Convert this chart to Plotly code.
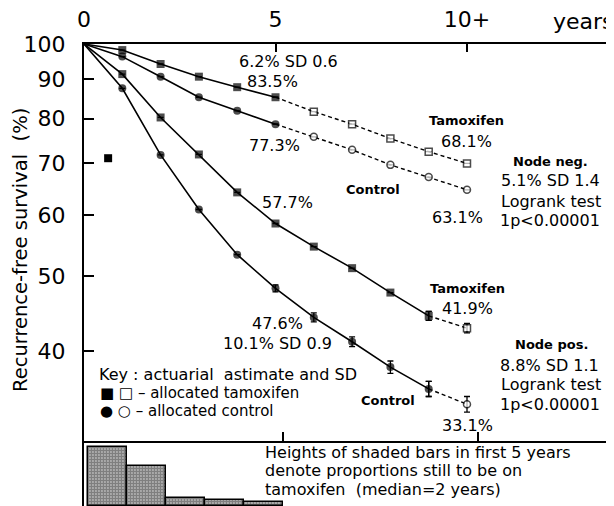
import plotly.graph_objects as go

# ---------------- data ----------------
years = [0, 1, 2, 3, 4, 5, 6, 7, 8, 9, 10]
neg_tamoxifen = [100, 98.2, 94.2, 90.7, 87.9, 85.3, 81.7, 78.7, 75.4, 72.5, 70.0]
neg_control = [100, 96.3, 90.7, 85.3, 81.9, 78.7, 75.8, 72.9, 69.7, 67.2, 64.7]
pos_tamoxifen = [100, 91.4, 80.3, 71.9, 64.2, 58.5, 54.6, 51.2, 47.6, 44.4, 42.8]
pos_control = [100, 87.6, 71.8, 61.0, 53.3, 48.2, 44.2, 41.1, 38.1, 35.7, 34.1]
pos_tamoxifen_sd = [0, 0, 0, 0, 0, 0, 0, 0, 0, 0.6, 0.6]
pos_control_sd = [0, 0, 0, 0, 0, 0.5, 0.6, 0.6, 0.7, 0.8, 0.8]
neg_sd = [0] * 11
stray_mark = ([0.63], [71.1])

on_tam_year = [1, 2, 3, 4, 5]
on_tam_prop = [0.94, 0.63, 0.13, 0.10, 0.06]

y_ticks = [40, 50, 60, 70, 80, 90, 100]
x_ticks = [0, 5, 10]
x_ticktext = ["0", "5", "10+"]

# ---------------- layout geometry ----------------
OFF = 8                      # page body margin of the html page
W, H = 614 - OFF, 506 - OFF  # figure size so it fits the window
L, R, T, B = 84 - OFF, 0, 44 - OFF, 0
PW, PH = W - L - R, H - T - B
main_bottom_px = 443 - OFF
d0 = (H - B - main_bottom_px) / PH
PX_PER_YEAR = 38.3
FONT = "DejaVu Sans"


def pxx(x):  # page pixel -> paper
    return (x - OFF - L) / PW


def pxy(y):
    return (H - B - (y - OFF)) / PH


fig = go.Figure()


def add_series(vals, sd, symbol, k, msize):
    n = len(years)
    fig.add_trace(go.Scatter(
        x=years[:k + 1], y=vals[:k + 1], mode="lines+markers",
        line=dict(color="black", width=1.6),
        marker=dict(symbol=symbol, color="black", size=[0] + [msize] * k,
                    line=dict(color="black", width=0)),
        error_y=dict(type="data", array=sd[:k + 1], color="black",
                     thickness=1.3, width=3),
        xaxis="x", yaxis="y", showlegend=False, hoverinfo="skip"))
    fig.add_trace(go.Scatter(
        x=years[k:], y=vals[k:], mode="lines+markers",
        line=dict(color="black", width=1.4, dash="4px,3px"),
        marker=dict(symbol=symbol, color="white", size=[0] + [msize - 1] * (n - 1 - k),
                    line=dict(color="black", width=1.5)),
        error_y=dict(type="data", array=sd[k:], color="black",
                     thickness=1.3, width=3),
        xaxis="x", yaxis="y", showlegend=False, hoverinfo="skip"))


add_series(neg_tamoxifen, neg_sd, "square", 5, 8)
add_series(neg_control, neg_sd, "circle", 5, 8)
add_series(pos_tamoxifen, pos_tamoxifen_sd, "square", 9, 8)
add_series(pos_control, pos_control_sd, "circle", 9, 8)

fig.add_trace(go.Scatter(x=stray_mark[0], y=stray_mark[1], mode="markers",
                         marker=dict(symbol="square", color="black", size=8),
                         xaxis="x", yaxis="y", showlegend=False, hoverinfo="skip"))

# shaded bars strip
fig.add_trace(go.Bar(
    x=[y - 0.5 for y in on_tam_year], y=on_tam_prop, width=1.0,
    marker=dict(color="white", line=dict(color="black", width=1.5),
                pattern=dict(shape=".", fgcolor="black", bgcolor="white",
                             size=3, solidity=0.8)),
    xaxis="x2", yaxis="y2", showlegend=False, hoverinfo="skip"))

fig.update_layout(
    width=W, height=H, margin=dict(l=L, r=R, t=T, b=B, autoexpand=False),
    paper_bgcolor="white", plot_bgcolor="white",
    font=dict(family=FONT, color="black"),
    xaxis=dict(domain=[0, 1], range=[0, PW / PX_PER_YEAR], side="top", anchor="y",
               tickvals=x_ticks, ticktext=x_ticktext, ticks="inside", ticklen=8,
               tickwidth=1.5, tickcolor="black", showline=True, linewidth=2,
               linecolor="black", showgrid=False, zeroline=False, automargin=False,
               tickfont=dict(size=22, family=FONT), ticklabelstandoff=6),
    yaxis=dict(domain=[d0, 1], type="log",
               range=[2 - (main_bottom_px - T) / 771.0, 2],
               tickvals=y_ticks, ticktext=[str(v) for v in y_ticks],
               ticks="inside", ticklen=10, tickwidth=1.5, tickcolor="black",
               showline=True, linewidth=2, linecolor="black", showgrid=False,
               zeroline=False, tickfont=dict(size=22, family=FONT), automargin=False,
               ticklabelstandoff=12, anchor="x"),
    xaxis2=dict(domain=[0, 1], anchor="y2", range=[-4 / 39, (PW - 4) / 39],
                side="top", showline=True, linewidth=1.5, linecolor="black",
                ticks="outside", tickvals=[5, 10], ticklen=9, tickwidth=1.5,
                tickcolor="black", showticklabels=False, showgrid=False,
                zeroline=False, automargin=False),
    yaxis2=dict(domain=[0, d0], range=[0, 1], anchor="x2", showline=True,
                linewidth=2, linecolor="black", showticklabels=False,
                ticks="", showgrid=False, zeroline=False, automargin=False),
    bargap=0,
)

# ---------------- text (page pixel positions) ----------------
notes = [
    ("6.2% SD 0.6", 288, 61, 16, False),
    ("83.5%", 272, 81, 16, False),
    ("77.3%", 274, 145, 16, False),
    ("57.7%", 287, 203, 16, False),
    ("47.6%", 277, 323, 16, False),
    ("10.1% SD 0.9", 277, 343, 16, False),
    ("Tamoxifen", 466, 121, 13, True),
    ("68.1%", 466, 141, 16, False),
    ("Control", 373, 189, 13, True),
    ("63.1%", 457, 217, 16, False),
    ("Node neg.", 550, 161, 13, True),
    ("5.1% SD 1.4", 550, 180, 16, False),
    ("Logrank test", 551, 201, 16, False),
    ("1p<0.00001", 550, 220, 16, False),
    ("Tamoxifen", 467, 288, 13, True),
    ("41.9%", 467, 308, 16, False),
    ("Control", 388, 400, 13, True),
    ("33.1%", 467, 425, 16, False),
    ("Node pos.", 551, 344, 13, True),
    ("8.8% SD 1.1", 549, 365, 16, False),
    ("Logrank test", 551, 384, 16, False),
    ("1p<0.00001", 550, 404, 16, False),
]
for txt, x, y, s, bold in notes:
    fig.add_annotation(text=f"<b>{txt}</b>" if bold else txt, xref="paper", yref="paper",
                       x=pxx(x), y=pxy(y), xanchor="center", yanchor="middle",
                       showarrow=False, font=dict(size=s, family=FONT, color="black"))

left_notes = [
    ("Key : actuarial\u00a0 astimate and SD", 97, 374, 16),
    ("■ □ – allocated tamoxifen", 98, 393, 15),
    ("● ○ – allocated control", 98, 411, 15),
    ("Heights of shaded bars in first 5 years", 263, 452, 16),
    ("denote proportions still to be on", 263, 470, 16),
    ("tamoxifen\u00a0 (median=2 years)", 263, 489, 16),
]
for txt, x, y, s in left_notes:
    fig.add_annotation(text=txt, xref="paper", yref="paper", x=pxx(x), y=pxy(y),
                       xanchor="left", yanchor="middle", showarrow=False,
                       font=dict(size=s, family=FONT, color="black"))

fig.add_annotation(text="years", xref="paper", yref="paper", x=pxx(583), y=pxy(21),
                   xanchor="center", yanchor="middle", showarrow=False,
                   font=dict(size=22, family=FONT, color="black"))
fig.add_annotation(text="Recurrence-free survival\u00a0 (%)", xref="paper", yref="paper",
                   x=pxx(20), y=pxy(250), xanchor="center", yanchor="middle",
                   textangle=-90, showarrow=False,
                   font=dict(size=19.5, family=FONT, color="black"))

fig.write_html("out.html")
